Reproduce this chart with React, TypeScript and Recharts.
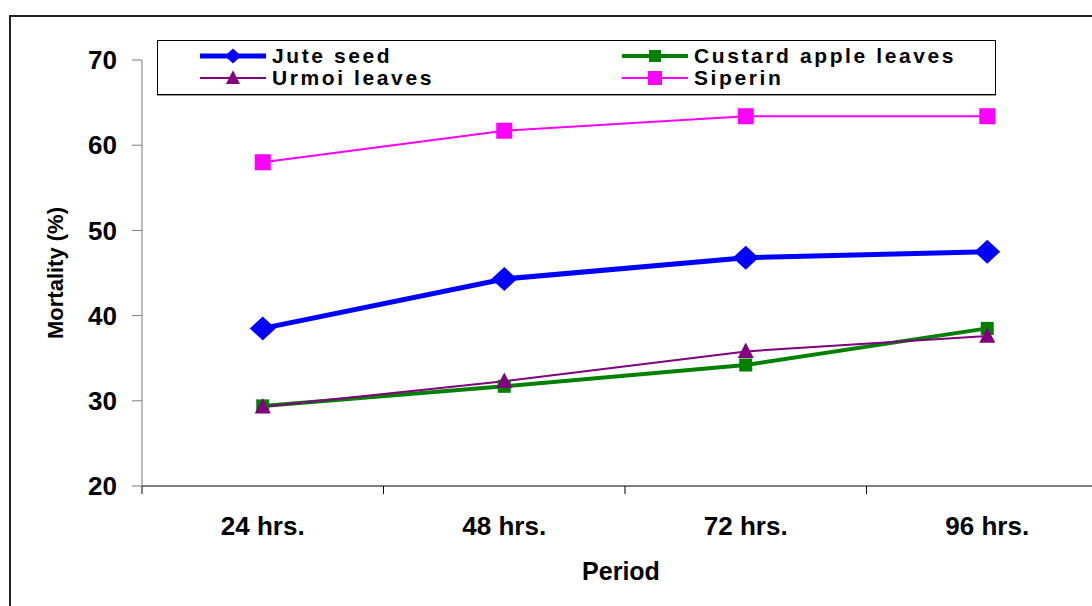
import React from "react";
import { LineChart, Line, XAxis, YAxis } from "recharts";

// values
const periods = ["24 hrs.", "48 hrs.", "72 hrs.", "96 hrs."];
const juteSeed = [38.5, 44.3, 46.8, 47.5];
const custardApple = [29.4, 31.7, 34.2, 38.5];
const urmoiLeaves = [29.3, 32.3, 35.8, 37.6];
const siperin = [58.0, 61.7, 63.4, 63.4];
const yTicks = [20, 30, 40, 50, 60, 70];
const xBoundaries = [0, 1, 2, 3, 4];

const data = periods.map((period, i) => ({
    period,
    x: i + 0.5,
    jute: juteSeed[i],
    custard: custardApple[i],
    urmoi: urmoiLeaves[i],
    siperin: siperin[i],
}));

const FONT = '"Liberation Sans", Arial, sans-serif';

type Shape = "diamond" | "square" | "triangle";

const Marker = ({ cx, cy, shape, size, color }: { cx: number; cy: number; shape: Shape; size: number; color: string }) => {
    if (shape === "diamond") {
        const w = size * 0.54, h = size * 0.5;
        return <path d={`M${cx},${cy - h}L${cx + w},${cy}L${cx},${cy + h}L${cx - w},${cy}Z`} fill={color} />;
    }
    if (shape === "triangle") {
        const w = size * 0.5, h = size * 0.55;
        return <path d={`M${cx},${cy - h}L${cx + w},${cy + size * 0.42}L${cx - w},${cy + size * 0.42}Z`} fill={color} />;
    }
    return <rect x={cx - size / 2} y={cy - size / 2} width={size} height={size} fill={color} />;
};

const series = [
    { key: "jute", name: "Jute seed", color: "#0000FF", width: 5, shape: "diamond" as Shape, size: 24, legendSize: 15 },
    { key: "custard", name: "Custard apple leaves", color: "#008000", width: 4, shape: "square" as Shape, size: 13, legendSize: 12 },
    { key: "urmoi", name: "Urmoi leaves", color: "#800080", width: 2, shape: "triangle" as Shape, size: 16, legendSize: 14 },
    { key: "siperin", name: "Siperin", color: "#FF00FF", width: 2, shape: "square" as Shape, size: 16, legendSize: 14 },
];

// legend grid slots: [left, top] inside the legend box
const legendSlots = [
    [42, 4],
    [464, 4],
    [42, 26],
    [464, 26],
];

const LegendBox = () => (
    <div
        style={{
            position: "absolute",
            left: 157,
            top: 40,
            width: 839,
            height: 55,
            boxSizing: "border-box",
            border: "1px solid #000",
            boxShadow: "0 1px 0 #999",
            background: "#fff",
            fontFamily: FONT,
        }}
    >
        {series.map((s, i) => (
            <div
                key={s.key}
                style={{
                    position: "absolute",
                    left: legendSlots[i][0],
                    top: legendSlots[i][1],
                    height: 22,
                    display: "flex",
                    alignItems: "center",
                    whiteSpace: "nowrap",
                }}
            >
                <svg width={66} height={22} style={{ display: "block" }}>
                    <line x1={0} x2={66} y1={11} y2={11} stroke={s.color} strokeWidth={s.width} />
                    <Marker cx={33} cy={11} shape={s.shape} size={s.legendSize} color={s.color} />
                </svg>
                <span style={{ marginLeft: 6, fontSize: 21, fontWeight: "bold", letterSpacing: 2.6, lineHeight: "22px", color: "#000" }}>
                    {s.name}
                </span>
            </div>
        ))}
    </div>
);

export default function App() {
    const tickStyle = { fontSize: 26, fontWeight: "bold" as const, fill: "#000", fontFamily: FONT };
    return (
        <div style={{ position: "absolute", left: 0, top: 0, width: 1092, height: 606, overflow: "hidden", background: "#fff" }}>
            <div
                style={{
                    position: "absolute",
                    left: 9,
                    top: 15,
                    width: 1200,
                    height: 700,
                    border: "2px solid #222",
                    boxSizing: "border-box",
                }}
            />
            <LineChart width={1120} height={606} data={data} margin={{ top: 60, right: 12, bottom: 20, left: 0 }}>
                {/* numeric axis: draws the axis line and the ticks between categories */}
                <XAxis
                    xAxisId="a_num"
                    type="number"
                    dataKey="x"
                    domain={[0, 4]}
                    ticks={xBoundaries}
                    tickFormatter={() => ""}
                    tickSize={8}
                    height={10}
                    stroke="#000"
                    allowDataOverflow
                />
                {/* category axis: only the labels */}
                <XAxis
                    xAxisId="b_cat"
                    dataKey="period"
                    scale="band"
                    axisLine={false}
                    tickLine={false}
                    tickSize={0}
                    tickMargin={21}
                    height={90}
                    tick={tickStyle}
                    interval={0}
                    label={{
                        value: "Period",
                        position: "insideBottom",
                        offset: 6,
                        dx: -4,
                        style: { fontSize: 25, fontWeight: "bold", fill: "#000", fontFamily: FONT },
                    }}
                />
                <YAxis
                    domain={[20, 70]}
                    ticks={yTicks}
                    width={142}
                    tickSize={10}
                    tickMargin={15}
                    stroke="#7a7a7a"
                    tick={tickStyle}
                    interval={0}
                    label={{
                        value: "Mortality (%)",
                        angle: -90,
                        position: "insideLeft",
                        offset: 55,
                        style: { textAnchor: "middle", fontSize: 22, fontWeight: "bold", fill: "#000", fontFamily: FONT },
                    }}
                />
                {series.map((s) => (
                    <Line
                        key={s.key}
                        xAxisId="a_num"
                        dataKey={s.key}
                        stroke={s.color}
                        strokeWidth={s.width}
                        isAnimationActive={false}
                        activeDot={false}
                        dot={(p: any) => (
                            <Marker key={`${s.key}-${p.index}`} cx={p.cx} cy={p.cy} shape={s.shape} size={s.size} color={s.color} />
                        )}
                    />
                ))}
            </LineChart>
            <LegendBox />
        </div>
    );
}
